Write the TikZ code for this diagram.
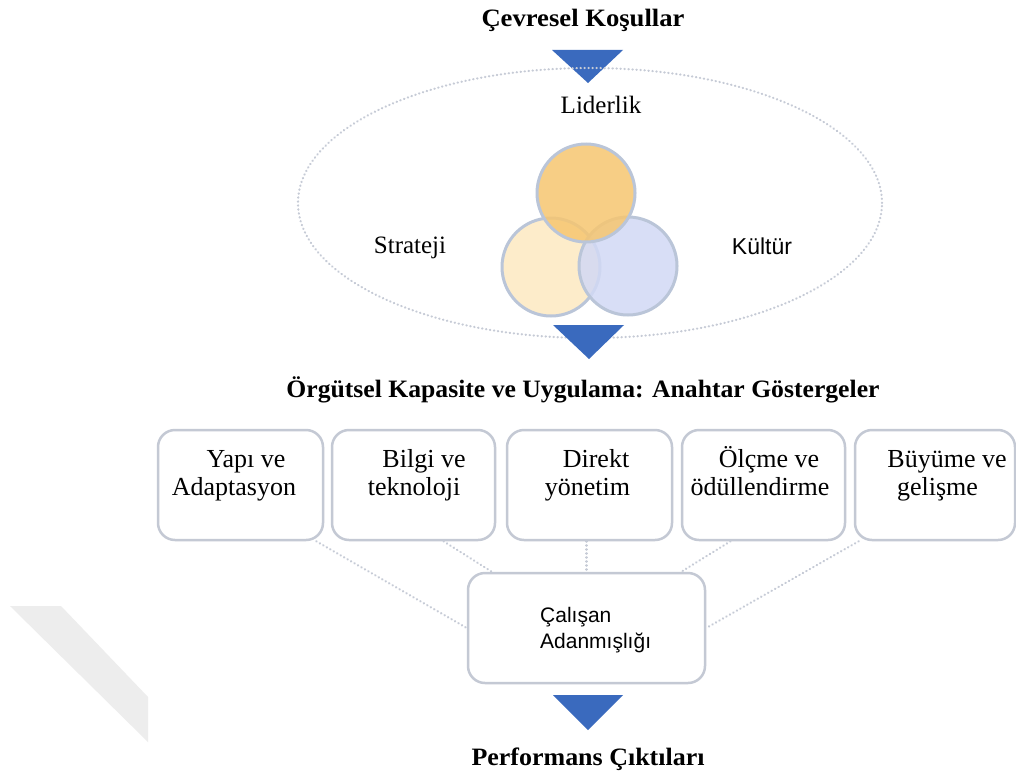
\documentclass[tikz,border=0pt]{standalone}
\usepackage{graphicx}
\usepackage{fontspec}
\setmainfont{Liberation Serif}
\newfontfamily\arialfam{Liberation Sans}

\definecolor{triblue}{RGB}{58,106,190}
\definecolor{rimgray}{RGB}{196,201,212}
\definecolor{dotgray}{RGB}{198,203,214}
\definecolor{ringgray}{RGB}{186,197,216}
\definecolor{leadfill}{RGB}{246,198,112}
\definecolor{stratfill}{RGB}{253,236,202}
\definecolor{cultfill}{RGB}{210,217,245}
\definecolor{markgray}{RGB}{237,237,237}

% stretch a text horizontally to a given width, keeping its height
\newcommand\fitto[2]{\resizebox{#1}{\height}{#2}}
% two stacked lines whose base anchor is the first baseline
\newcommand\twolines[2]{\begin{tabular}[t]{@{}c@{}}#1\\#2\end{tabular}}
\newcommand\twoleft[2]{\begin{tabular}[t]{@{}l@{}}#1\\#2\end{tabular}}

\begin{document}
\begin{tikzpicture}[x=1pt,y=-1pt,
  headline/.style={inner sep=0, anchor=base, font=\fontsize{25}{30}\selectfont\bfseries},
  serifword/.style={inner sep=0, anchor=base, font=\fontsize{25}{30}\selectfont},
  sansword/.style={inner sep=0, anchor=base, font=\arialfam\fontsize{23}{28}\selectfont},
  marker/.style={fill=triblue},
  dotline/.style={draw=dotgray, line width=2.2pt, dash pattern=on 0.4pt off 3.6pt, line cap=round},
  venn/.style={circle, draw=ringgray, line width=3pt, minimum size=98pt, inner sep=0},
  kpibox/.style={draw=rimgray, line width=2.5pt, rounded corners=17pt, fill=white,
                 minimum height=110pt, inner sep=0},
  kpitext/.style={inner sep=0, anchor=base, font=\fontsize{26}{28}\selectfont},
  sharetext/.style={inner sep=0, anchor=base west, font=\arialfam\fontsize{21}{26}\selectfont},
]
\useasboundingbox (0,0) rectangle (1016,776);
\fill[white] (0,0) rectangle (1016,776);

% faint diagonal band at the left edge
\fill[markgray] (10,606) -- (61,606) -- (148,697) -- (148,742) -- cycle;

% environment heading and first marker
\node[headline] (env) at (583,27) {\fitto{203pt}{Çevresel Koşullar}};
\fill[marker] (552,50) -- (623,50) -- (588,83) -- cycle;

% dotted frame around the three drivers
\draw[dotline] (590,203) ellipse [x radius=292pt, y radius=135pt];

\node[serifword] (leadl) at (601,113) {Liderlik};

% overlapping circles
\node[venn, fill=stratfill] (stratc) at (551,267) {};
\node[venn, fill=cultfill, fill opacity=0.85] (cultc) at (628,266) {};
\node[venn, fill=leadfill, fill opacity=0.85] (leadc) at (586,193) {};

\node[serifword] (stratl) at (410,253) {Strateji};
\node[sansword] (cultl) at (762,254) {Kültür};

% second marker and capacity heading
\fill[marker] (553,325) -- (624,325) -- (589,359) -- cycle;
\node[headline] (capl) at (583,397)
  {\fitto{593pt}{Örgütsel Kapasite ve Uygulama: Anahtar Göstergeler}};

% indicator boxes
\node[kpibox, minimum width=165pt] (b1) at (240.5,485) {};
\node[kpibox, minimum width=163pt] (b2) at (413.5,485) {};
\node[kpibox, minimum width=165pt] (b3) at (589.5,485) {};
\node[kpibox, minimum width=163pt] (b4) at (763.5,485) {};
\node[kpibox, minimum width=160pt] (b5) at (935,485) {};

\node[kpitext] (b1t) at (234,467) {\twolines{\hspace*{24pt}Yapı ve}{Adaptasyon}};
\node[kpitext] (b2t) at (414,467) {\twolines{\hspace*{20pt}Bilgi ve}{teknoloji}};
\node[kpitext] (b3t) at (587.5,467) {\twolines{\hspace*{17pt}Direkt}{yönetim}};
\node[kpitext] (b4t) at (760,467) {\twolines{\hspace*{18pt}Ölçme ve}{ödüllendirme}};
\node[kpitext] (b5t) at (947,467) {\twolines{Büyüme ve}{gelişme\hspace*{19pt}}};

% commitment box
\node[kpibox, minimum width=237pt, minimum height=110pt] (cal) at (586.5,628) {};
\node[sharetext] (calt) at (540,622) {\twoleft{Çalışan}{Adanmışlığı}};

% dotted links from the indicators to the commitment box
\draw[dotline] ([xshift=-8pt]b1.south east) -- (cal.west);
\draw[dotline] ([xshift=30pt]b2.south) -- ([xshift=25pt]cal.north west);
\draw[dotline] (b3.south -| cal.north) -- (cal.north);
\draw[dotline] ([xshift=-33pt]b4.south) -- ([xshift=-25pt]cal.north east);
\draw[dotline] ([xshift=5pt]b5.south west) -- (cal.east);

% final marker and outcome heading
\fill[marker] (553,695) -- (623,695) -- (588,730) -- cycle;
\node[headline] (perf) at (588,765) {\fitto{233pt}{Performans Çıktıları}};
\end{tikzpicture}
\end{document}
